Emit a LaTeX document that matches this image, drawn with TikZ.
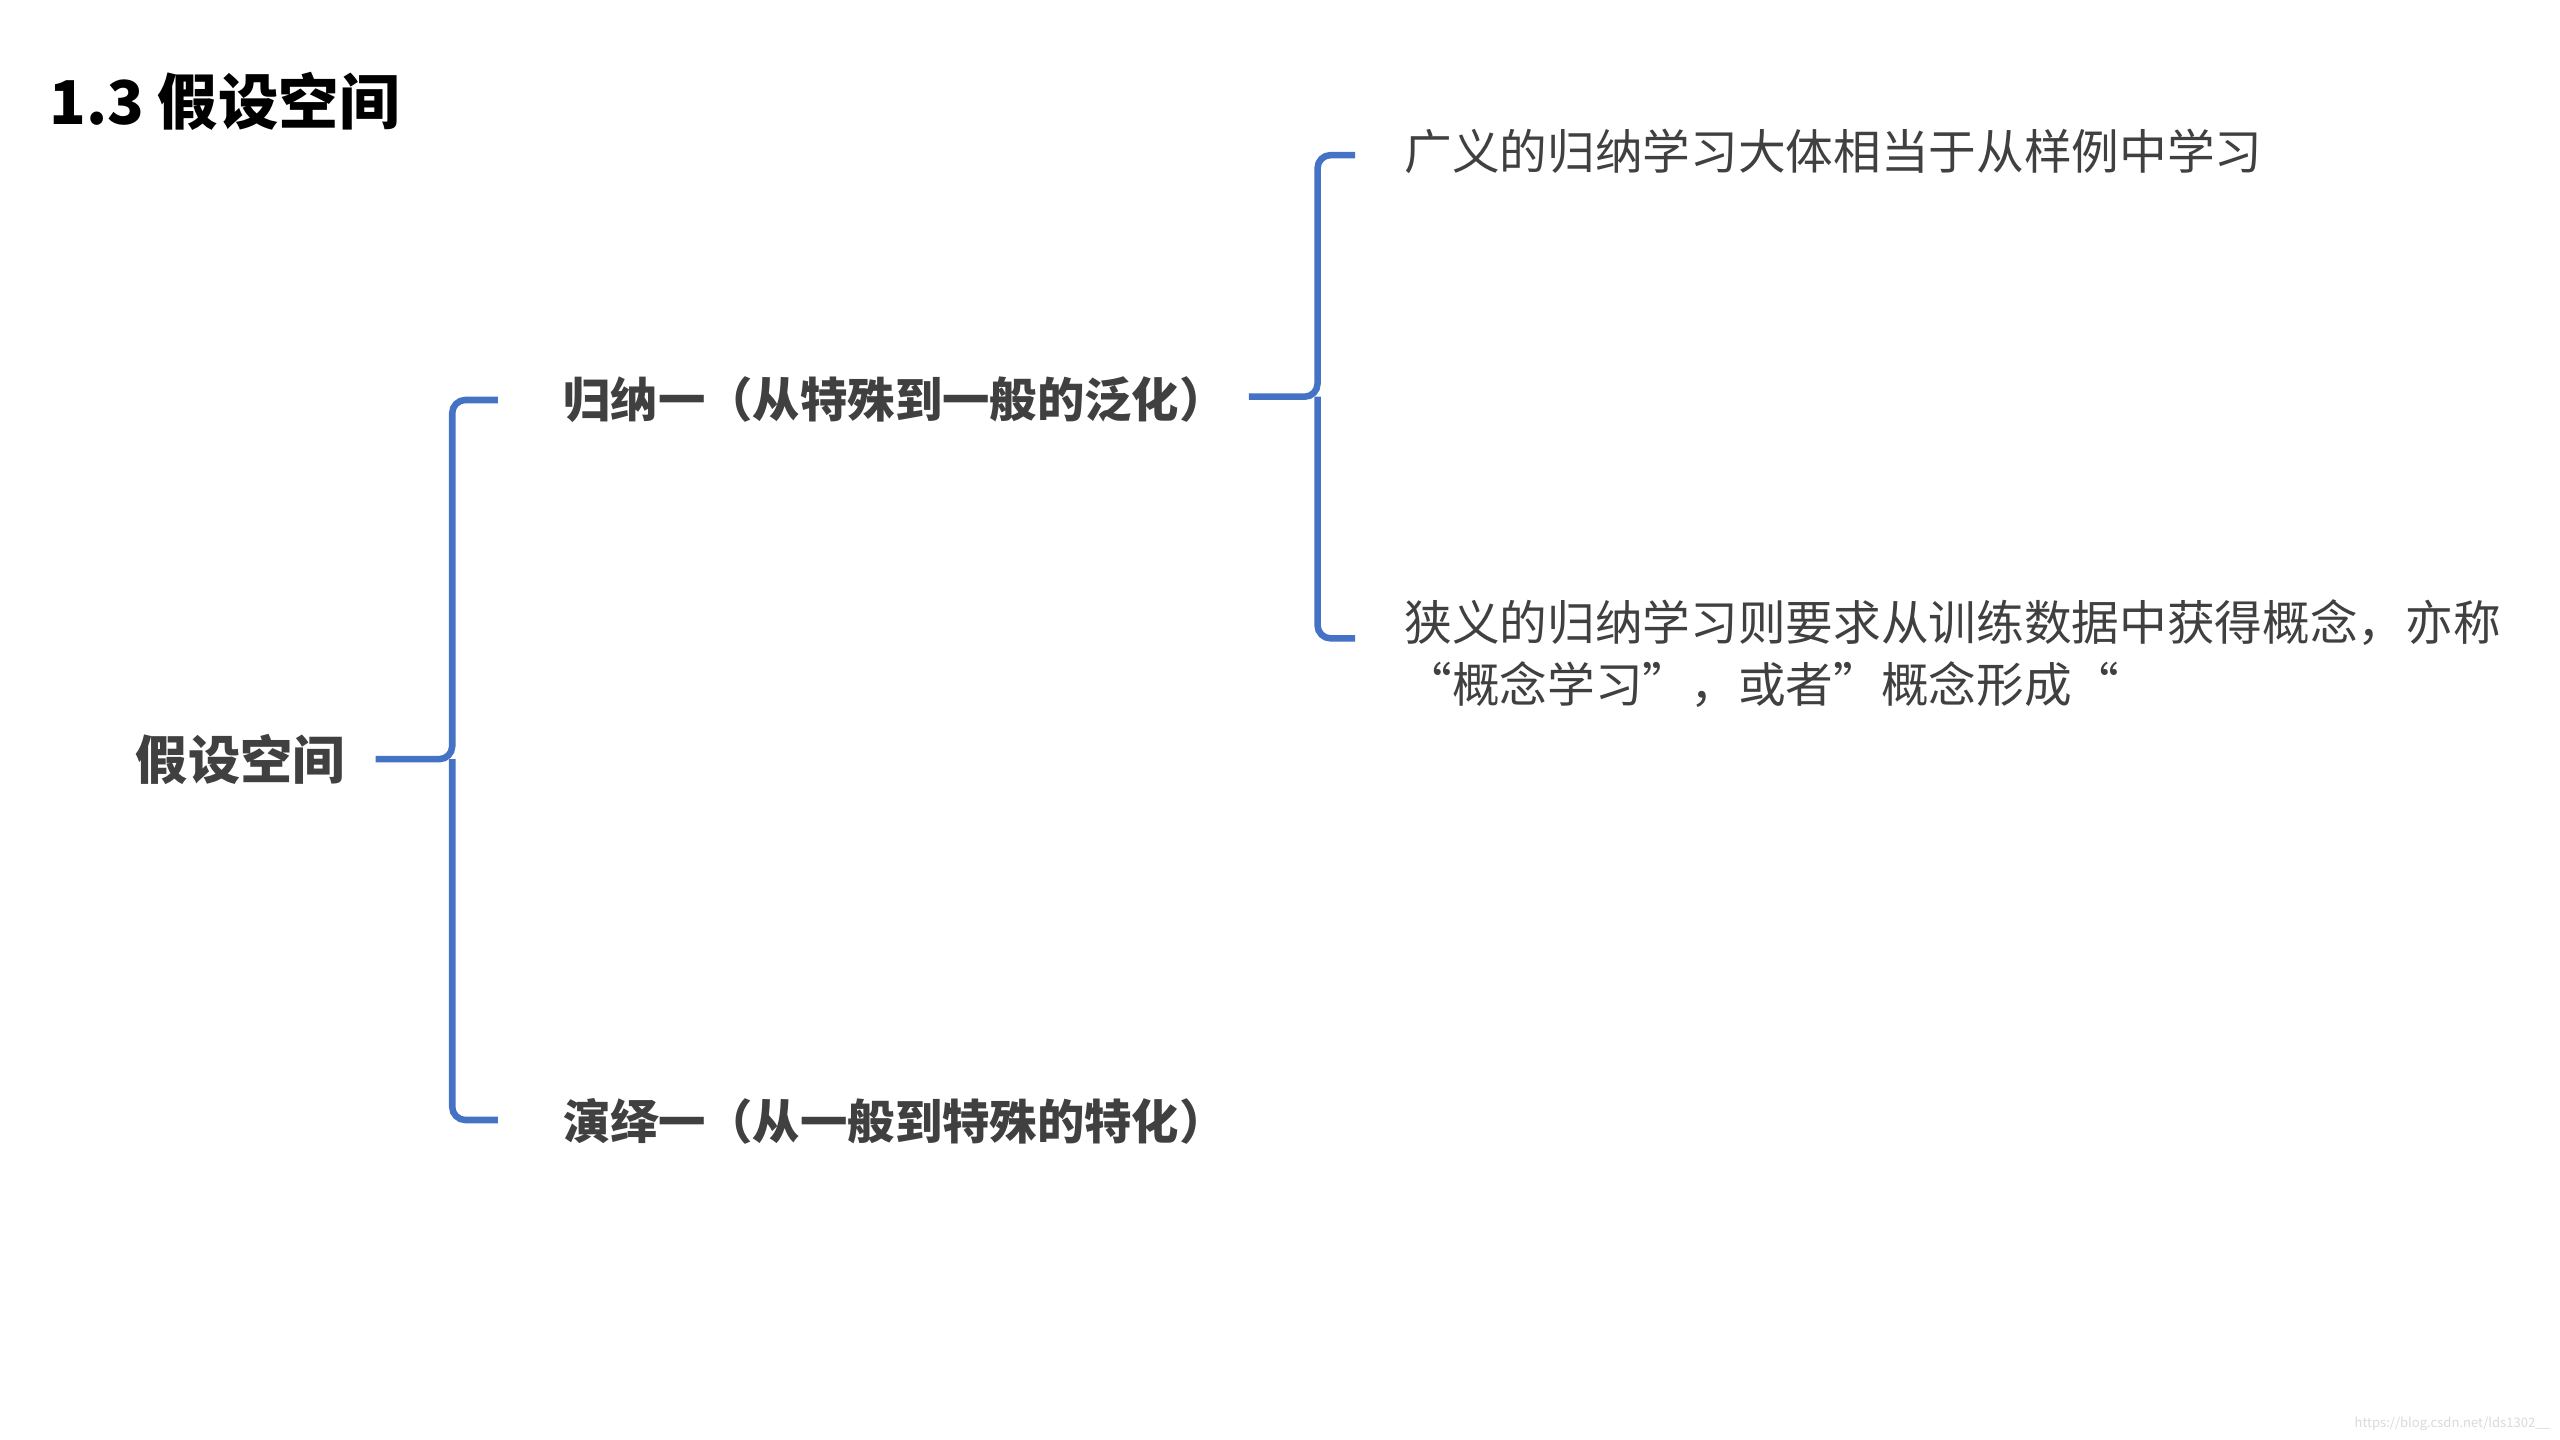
\documentclass[tikz,border=0pt]{standalone}
\usepackage{fontspec}
\setmainfont{Noto Sans CJK SC}
\definecolor{braceblue}{HTML}{4472C4}
\definecolor{txt}{HTML}{404040}
\begin{document}
\begin{tikzpicture}[x=1pt,y=-1pt,
  brace/.style={draw=braceblue,line width=4pt,rounded corners=8pt},
  lbl/.style={anchor=west,inner sep=0pt,text=txt,font=\fontsize{29}{34}\selectfont\bfseries},
  rtxt/.style={anchor=west,inner sep=0pt,text=txt,font=\fontsize{29.2}{38}\selectfont,align=left}]
\useasboundingbox (0,0) rectangle (1568,882);
\node[anchor=west,inner sep=0pt,font=\fontsize{37}{40}\selectfont\bfseries] (title) at (30,62) {1.3 假设空间};
\node[lbl,font=\fontsize{32}{36}\selectfont\bfseries] (root) at (83,465) {假设空间};
\node[lbl] (ind) at (345,245) {归纳一（从特殊到一般的泛化）};
\node[lbl] (ded) at (345,687) {演绎一（从一般到特殊的特化）};
\node[rtxt] (r1) at (860,93) {广义的归纳学习大体相当于从样例中学习};
\node[rtxt,anchor=north west] (r2) at (860,367) {狭义的归纳学习则要求从训练数据中获得概念，亦称\\“概念学习”，或者”概念形成“};
% brace 1
\draw[brace] (305,245) -- (277,245) -- (277,465) -- (230,465);
\draw[brace] (305,686) -- (277,686) -- (277,465);
% brace 2
\draw[brace] (830,95) -- (807,95) -- (807,243) -- (765,243);
\draw[brace] (830,391) -- (807,391) -- (807,243);
\node[anchor=east,inner sep=0pt,text=black!15,font=\fontsize{8}{10}\selectfont] (wm) at (1562,872) {https://blog.csdn.net/lds1302\_\_};
\end{tikzpicture}
\end{document}
